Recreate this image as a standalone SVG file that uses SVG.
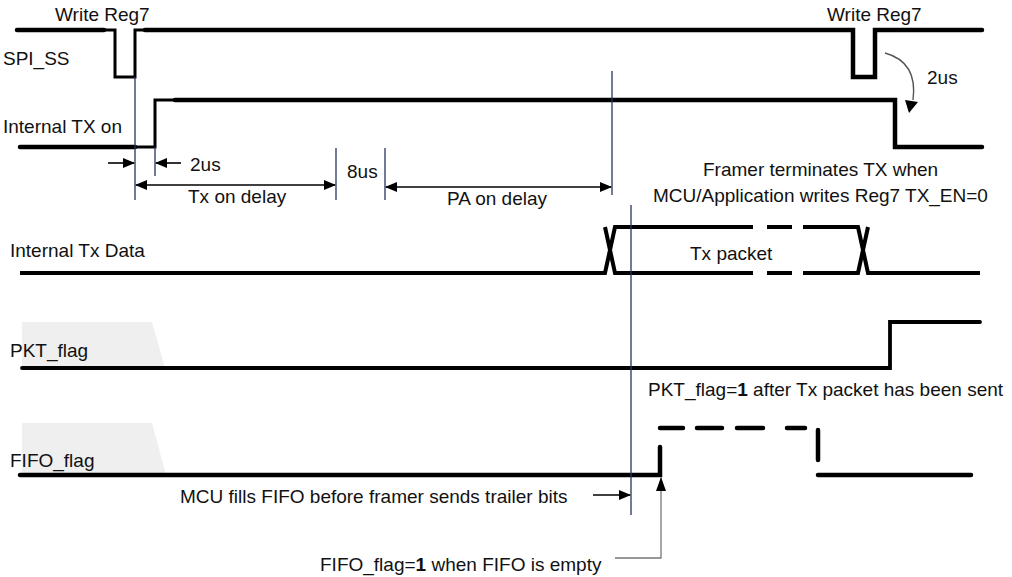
<svg xmlns="http://www.w3.org/2000/svg" width="1012" height="577" viewBox="0 0 1012 577">
<defs>
<marker id="ah" viewBox="0 0 12 10" refX="11" refY="5" markerWidth="12" markerHeight="10" markerUnits="userSpaceOnUse" orient="auto-start-reverse">
<path d="M0,0 L12,5 L0,10 z" fill="#000"/>
</marker>
</defs>
<style>
text{font-family:"Liberation Sans",Arial,sans-serif;font-size:19px;fill:#111}
.sig{fill:none;stroke:#000;stroke-width:4.5;stroke-linejoin:miter;stroke-linecap:round}
.thin{fill:none;stroke:#000;stroke-width:3}
.data{fill:none;stroke:#000;stroke-width:4;stroke-linejoin:miter}
.ref{stroke:#23375a;stroke-width:1.3;fill:none}
.arr{stroke:#000;stroke-width:1.6;fill:none}
.lead{stroke:#777;stroke-width:1.3;fill:none}
.shade{fill:#efefef}
</style>
<rect width="1012" height="577" fill="#fff"/>

<g id="spi_ss">
<text x="3" y="65">SPI_SS</text>
<text x="55" y="21">Write Reg7</text>
<text x="827" y="21">Write Reg7</text>
<path class="sig" d="M17,30 H104"/>
<path class="thin" d="M104,30 H115 V77 H135 V30 H145"/>
<path class="sig" d="M145,30 H853 V77 H875 V30 H982"/>
</g>

<g id="internal_tx_on">
<text x="3" y="133">Internal TX on</text>
<path class="sig" d="M20,147 H135"/>
<path class="thin" d="M135,147 H155 V100 H175"/>
<path class="sig" d="M175,100 H895 V147 H982"/>
<text x="190" y="171">2us</text>
<text x="188" y="203">Tx on delay</text>
<text x="347" y="178">8us</text>
<text x="447" y="205">PA on delay</text>
<text x="703" y="176">Framer terminates TX when</text>
<text x="653" y="202">MCU/Application writes Reg7 TX_EN=0</text>
<text x="927" y="84">2us</text>
</g>

<g id="internal_tx_data">
<text x="10" y="257">Internal Tx Data</text>
<path class="data" d="M20,273 H605 L615,227 H753 M605,227 L615,273 H753"/>
<path class="data" d="M767,227 H792 M803,227 H858 L868,273 H980 M767,273 H792 M803,273 H858 L868,227"/>
<text x="690" y="260">Tx packet</text>
</g>

<g id="pkt_flag">
<path class="shade" d="M22,322 H152 L165,368 H22 z"/>
<text x="10" y="357">PKT_flag</text>
<path class="sig" d="M22,368 H890 V322 H980" style="stroke-width:3.8"/>
<text x="648" y="396">PKT_flag=<tspan font-weight="bold">1</tspan> after Tx packet has been sent</text>
</g>

<g id="fifo_flag">
<path class="shade" d="M22,423 H152 L166,475 H22 z"/>
<text x="10" y="467">FIFO_flag</text>
<path class="sig" d="M20,475 H660 V447"/>
<path class="sig" d="M660,428 H683 M697,428 H722 M737,428 H763 M787,428 H805 M818,430 V460"/>
<path class="sig" d="M818,475 H971"/>
<text x="180" y="503">MCU fills FIFO before framer sends trailer bits</text>
<text x="320" y="571">FIFO_flag=<tspan font-weight="bold">1</tspan> when FIFO is empty</text>
</g>

<g id="connectors">
<line class="ref" x1="135" y1="77" x2="135" y2="200"/>
<line class="ref" x1="155" y1="147" x2="155" y2="176"/>
<line class="ref" x1="336" y1="148" x2="336" y2="200"/>
<line class="ref" x1="385" y1="148" x2="385" y2="200"/>
<line class="ref" x1="612" y1="71" x2="612" y2="195"/>
<line class="ref" x1="631" y1="205" x2="631" y2="515"/>
<line class="arr" x1="108" y1="163" x2="134" y2="163" marker-end="url(#ah)"/>
<line class="arr" x1="181" y1="163" x2="156" y2="163" marker-end="url(#ah)"/>
<line class="arr" x1="136" y1="185" x2="335" y2="185" marker-start="url(#ah)" marker-end="url(#ah)"/>
<line class="arr" x1="386" y1="187" x2="611" y2="187" marker-start="url(#ah)" marker-end="url(#ah)"/>
<line class="arr" x1="593" y1="495" x2="630" y2="495" marker-end="url(#ah)"/>
<path class="lead" d="M615,558 H661 V478"/>
<path d="M661,477 L666,491 L656,491 z" fill="#000"/>
<path d="M885,53 Q918,62 913,100" fill="none" stroke="#555" stroke-width="1.4"/>
<path d="M905,100 L918,102 L909,113 z" fill="#000"/>
</g>
</svg>
